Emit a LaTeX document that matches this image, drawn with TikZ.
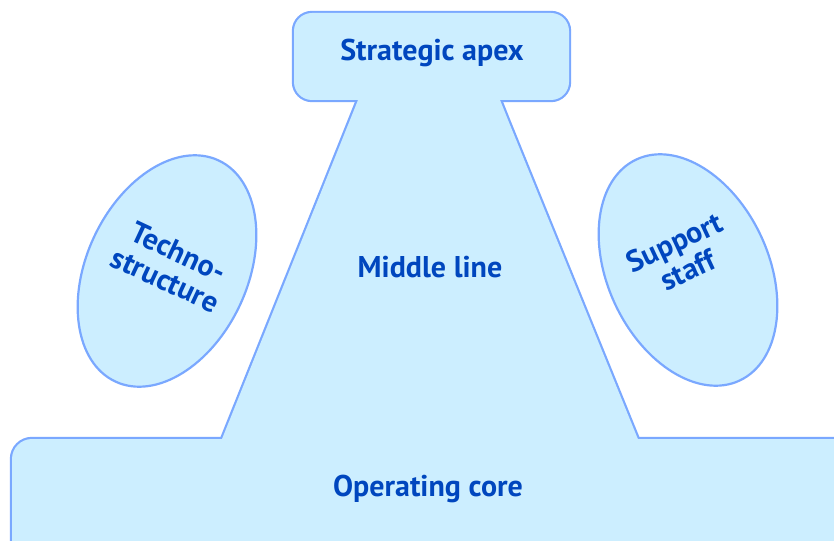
\documentclass[tikz,border=0pt]{standalone}
\usepackage{fontspec}
\setmainfont{PT Sans}
\usetikzlibrary{shapes.geometric}
\definecolor{edgeblue}{RGB}{122,168,255}
\definecolor{fillblue}{RGB}{204,238,255}
\definecolor{textblue}{RGB}{0,70,190}
\tikzset{
  outline/.style={draw=edgeblue, line width=4.4pt},
  inner/.style={fill=fillblue},
  lbl/.style={text=textblue, font=\bfseries\fontsize{30}{31}\selectfont, align=center, inner sep=0pt},
  blob/.style={ellipse, draw=edgeblue, line width=2.2pt, fill=fillblue, inner sep=0pt,
    minimum width=161pt, minimum height=244pt}
}
\begin{document}
\begin{tikzpicture}[x=1pt,y=-1pt]
\useasboundingbox (0,0) rectangle (834,540);
% outlines (doubled width, inner half covered by fill)
\draw[outline, rounded corners=18pt] (294,13) rectangle (569,100);
\draw[outline, rounded corners=20pt] (12,439) rectangle (860,570);
\draw[outline] (366,80) -- (350,120) -- (214,459) -- (646,459) -- (508,120) -- (492,80) -- cycle;
% fills
\fill[inner, rounded corners=18pt] (294,13) rectangle (569,100);
\fill[inner, rounded corners=20pt] (12,439) rectangle (860,570);
\fill[inner] (366,80) -- (350,120) -- (214,459) -- (646,459) -- (508,120) -- (492,80) -- cycle;
% side ellipses
\node[blob, rotate=-25] (techno) at (167,271) {};
\node[blob, rotate=25] (support) at (688,270) {};
% labels
\node[lbl] (apex) at (432,53) {Strategic apex};
\node[lbl] (middle) at (430,267) {Middle line};
\node[lbl] (core) at (428,489) {Operating core};
\node[lbl, rotate=-25] (technolbl) at (172,266) {Techno-\\structure};
\node[lbl, rotate=25] (supportlbl) at (681,256) {Support\\staff};
\end{tikzpicture}
\end{document}
